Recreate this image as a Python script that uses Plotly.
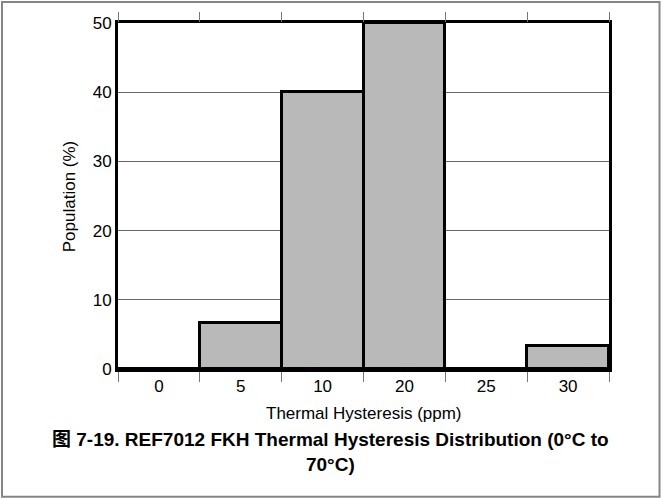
import plotly.graph_objects as go

categories = ["0", "5", "10", "20", "25", "30"]
population = [0, 6.7, 40, 50, 0, 3.3]
y_ticks = [0, 10, 20, 30, 40, 50]

FONT = "Liberation Sans, Arial, Noto Sans CJK SC, sans-serif"

fig = go.Figure()
# invisible copy on a top axis, only to draw the top boundary ticks
fig.add_trace(go.Bar(
    x=categories, y=population, xaxis="x2",
    marker=dict(color="rgba(0,0,0,0)", line=dict(width=0)),
    hoverinfo="skip", showlegend=False,
))
fig.add_trace(go.Bar(
    x=categories, y=population,
    marker=dict(color="#b9b9b9", line=dict(color="black", width=3)),
    hoverinfo="x+y",
))

W, H = 662, 499
L, R, T, B = 118, 53, 22.5, 130
pw, ph = W - L - R, H - T - B

def px_x(x):
    return (x - L) / pw

def px_y(y):
    return (H - B - y) / ph

xrange = [-0.5, len(categories) - 0.5]

fig.update_layout(
    width=W, height=H,
    margin=dict(l=L, r=R, t=T, b=B),
    paper_bgcolor="white", plot_bgcolor="white",
    bargap=0, barmode="overlay", showlegend=False,
    font=dict(family=FONT, size=17, color="black"),
    xaxis=dict(
        type="category", tickson="boundaries", range=xrange,
        showline=True, linewidth=3, linecolor="black", mirror=True,
        ticks="outside", ticklen=10, tickwidth=1, tickcolor="#777777",
        showgrid=False, automargin=False,
        tickfont=dict(size=17),
    ),
    xaxis2=dict(
        type="category", tickson="boundaries", range=xrange,
        overlaying="x", side="top", anchor="y",
        showline=False, showticklabels=False,
        ticks="outside", ticklen=10, tickwidth=1, tickcolor="#777777",
        showgrid=False, automargin=False,
    ),
    yaxis=dict(
        range=[0, 50], tickvals=y_ticks,
        showline=True, linewidth=3, linecolor="black", mirror=True,
        ticks="", showgrid=True, gridcolor="#666666", gridwidth=1,
        zeroline=False, automargin=False,
        tickfont=dict(size=17),
    ),
    shapes=[dict(
        type="rect", xref="paper", yref="paper",
        x0=px_x(2), x1=px_x(659.5), y0=px_y(497), y1=px_y(1.5),
        line=dict(color="#858585", width=2), fillcolor="rgba(0,0,0,0)", layer="below",
    )],
    annotations=[
        dict(text="Population (%)", textangle=-90,
             xref="paper", yref="paper", x=px_x(69), y=px_y(196),
             xanchor="center", yanchor="middle", showarrow=False,
             font=dict(family=FONT, size=17, color="black")),
        dict(text="Thermal Hysteresis (ppm)",
             xref="paper", yref="paper", x=px_x(364), y=px_y(414),
             xanchor="center", yanchor="middle", showarrow=False,
             font=dict(family=FONT, size=17, color="black")),
        dict(text="<b>图 7-19. REF7012 FKH Thermal Hysteresis Distribution (0°C to<br>70°C)</b>",
             xref="paper", yref="paper", x=px_x(330), y=px_y(452),
             xanchor="center", yanchor="middle", showarrow=False,
             font=dict(family=FONT, size=19, color="black"), align="center"),
    ],
)

fig.write_html("out.html", config={"displayModeBar": False},
               post_script="document.body.style.margin='0';")
